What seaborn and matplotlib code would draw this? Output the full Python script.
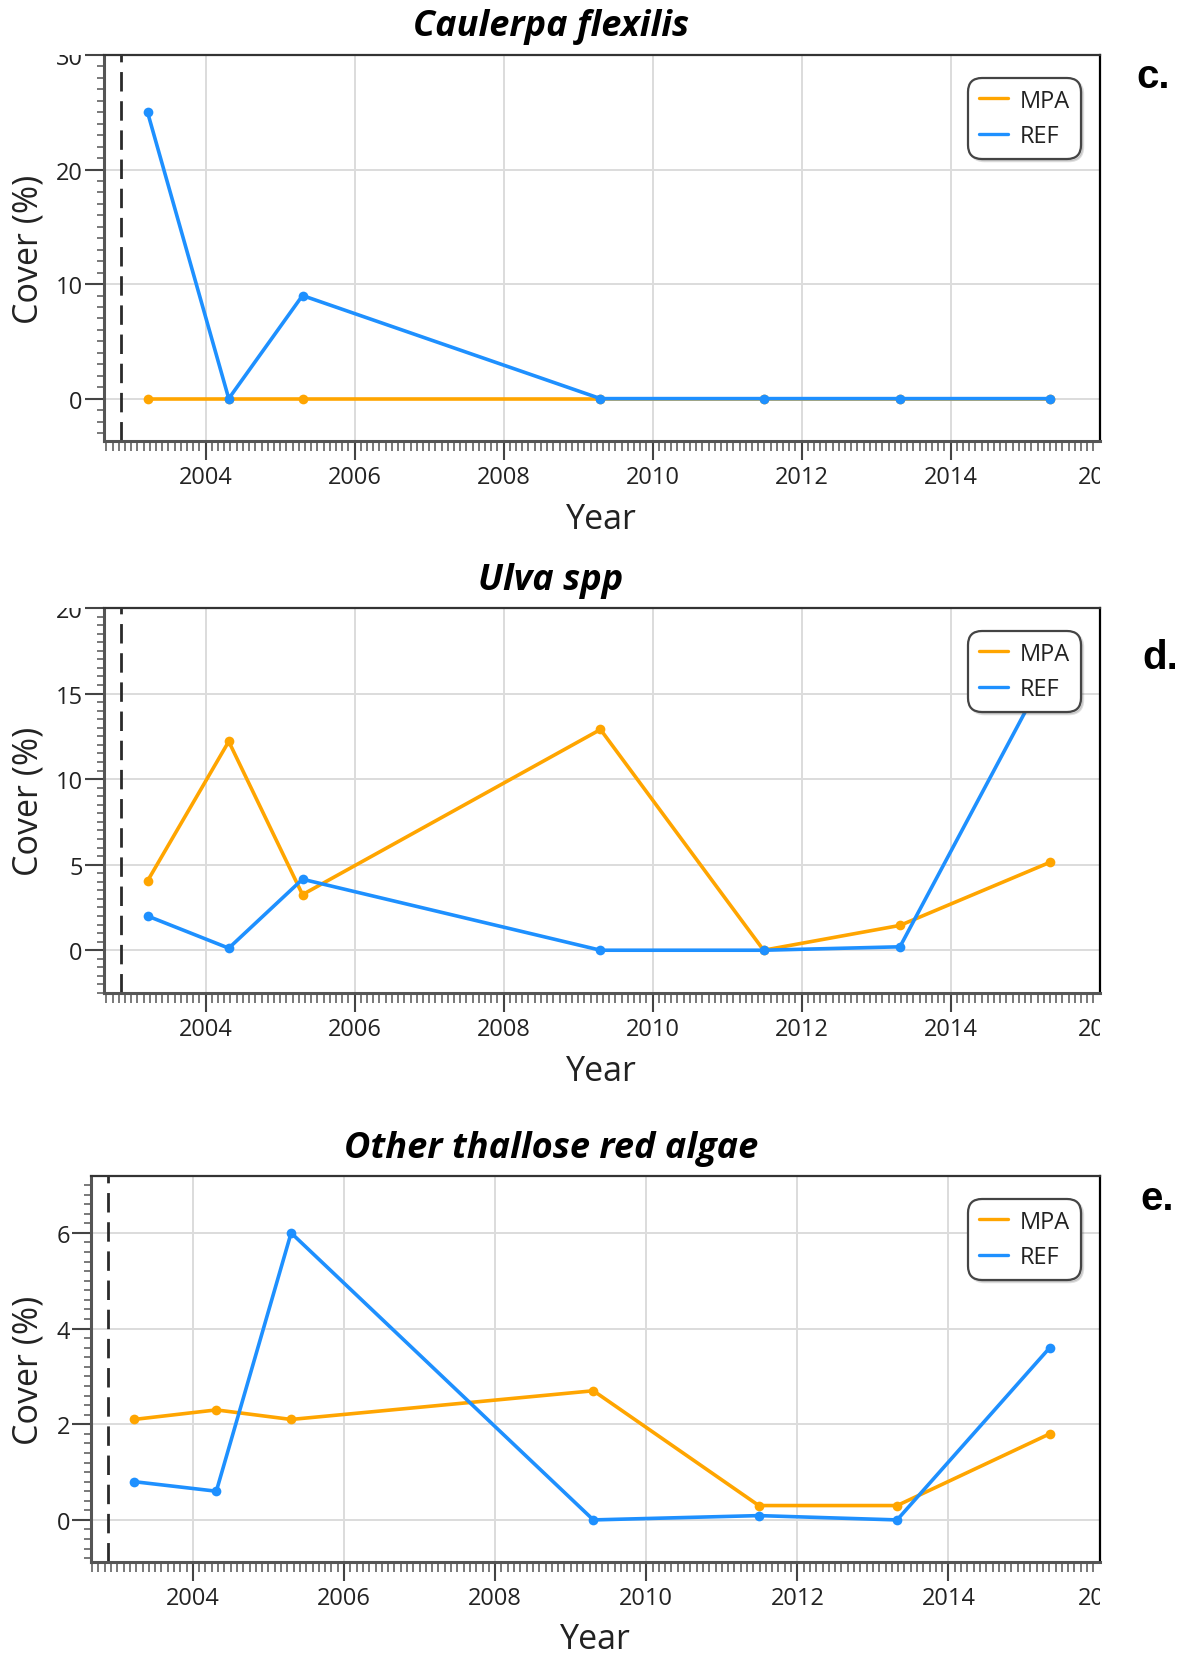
import numpy as np
import pandas as pd
import matplotlib
matplotlib.use("Agg")
import matplotlib.pyplot as plt
import seaborn as sns
from matplotlib.ticker import MultipleLocator, FixedLocator
from matplotlib.lines import Line2D
from matplotlib.transforms import Bbox, TransformedBbox, ScaledTranslation

# ---------------- data ----------------
years = [2003.22, 2004.31, 2005.30, 2009.30, 2011.49, 2013.32, 2015.34]
sites = ["MPA", "REF"]

caulerpa_mpa = [0, 0, 0, 0, 0, 0, 0]
caulerpa_ref = [25.0, 0, 9.0, 0, 0, 0, 0]

ulva_mpa = [4.05, 12.2, 3.25, 12.9, 0.0, 1.45, 5.15]
ulva_ref = [2.0, 0.12, 4.15, 0.0, 0.0, 0.2, 16.7]

red_mpa = [2.1, 2.3, 2.1, 2.7, 0.3, 0.3, 1.8]
red_ref = [0.8, 0.6, 6.0, 0.0, 0.09, 0.0, 3.6]

titles = ["Caulerpa flexilis", "Ulva spp", "Other thallose red algae"]
panel_labels = ["c.", "d.", "e."]
x_ticks = [2004, 2006, 2008, 2010, 2012, 2014, 2016]
y_ticks = [[0, 10, 20, 30], [0, 5, 10, 15, 20], [0, 2, 4, 6]]
mpa_start = 2002.87

panels = [(caulerpa_mpa, caulerpa_ref), (ulva_mpa, ulva_ref), (red_mpa, red_ref)]

# ---------------- style ----------------
sns.set_style("white")
plt.rcParams["font.family"] = ["Open Sans", "DejaVu Sans"]
palette = {"MPA": "#FFA500", "REF": "#1E90FF"}

W, H = 1180, 1658
fig = plt.figure(figsize=(W / 100, H / 100), dpi=100)

# axes boxes in pixels: left, right, top, bottom
boxes = [(103.6, 1099.6, 56, 442), (103.6, 1099.6, 609, 994), (90.9, 1099.6, 1177, 1563)]
ylims = [(-3.7, 30.0), (-2.5, 20.0), (-0.88, 7.19)]
xlims = [(2002.63, 2016.0), (2002.63, 2016.0), (2002.65, 2016.0)]
yminor = [1, 0.5, 0.2]
title_y = [27, 581, 1149]
label_pos = [(1136, 88), (1142, 669), (1140, 1210)]
xlabel_y = [-0.202, -0.203, -0.1995]

axes = []
for i, (mpa, ref) in enumerate(panels):
    l, r, t, b = boxes[i]
    ax = fig.add_axes([l / W, 1 - b / H, (r - l) / W, (b - t) / H])
    axes.append(ax)
    df = pd.DataFrame({
        "Year": years * 2,
        "Cover": list(mpa) + list(ref),
        "Site": ["MPA"] * len(years) + ["REF"] * len(years),
    })
    ax.grid(True, color="#dcdcdc", linewidth=1.4, zorder=0)
    ax.set_axisbelow(True)
    ax.axvline(mpa_start, color="#2a2a2a", linewidth=2.0, dashes=(7, 3.5), zorder=1)
    sns.lineplot(data=df, x="Year", y="Cover", hue="Site", palette=palette,
                 hue_order=sites, marker="o", markersize=7, markeredgewidth=0,
                 linewidth=2.6, errorbar=None, ax=ax, legend=False, zorder=3)
    ax.set_xlim(*xlims[i])
    ax.set_ylim(*ylims[i])
    ax.xaxis.set_major_locator(FixedLocator(x_ticks))
    ax.xaxis.set_minor_locator(MultipleLocator(1 / 12))
    ax.yaxis.set_major_locator(FixedLocator(y_ticks[i]))
    ax.yaxis.set_minor_locator(MultipleLocator(yminor[i]))
    ax.tick_params(axis="x", which="major", direction="out", length=14, width=1.5,
                   color="#444444", labelsize=17, labelcolor="#222222", pad=3,
                   bottom=True, top=False)
    ax.tick_params(axis="x", which="minor", direction="out", length=7, width=1.1,
                   color="#555555", bottom=True, top=False)
    ax.tick_params(axis="y", which="major", direction="out", length=14, width=1.5,
                   color="#444444", labelsize=17, labelcolor="#222222", pad=1,
                   left=True, right=False)
    ax.tick_params(axis="y", which="minor", direction="out", length=5, width=1.1,
                   color="#555555", left=True, right=False)
    for side in ["left", "bottom"]:
        ax.spines[side].set_color("#555555")
        ax.spines[side].set_linewidth(2.2)
    ax.spines["top"].set_color("#333333")
    ax.spines["top"].set_linewidth(1.6)
    ax.spines["right"].set_color("#000000")
    ax.spines["right"].set_linewidth(1.6)

    ax.set_xlabel("Year", fontsize=24.5, color="#222222")
    ax.xaxis.label.set_va("center")
    ax.xaxis.set_label_coords(0.5, xlabel_y[i])
    ax.set_ylabel("Cover (%)", fontsize=24.5, color="#222222")
    ax.yaxis.label.set_va("center")
    ylab_x = (28.5 - l) / (r - l)
    ax.yaxis.set_label_coords(ylab_x, 0.5)

    handles = [Line2D([], [], color=palette[s], linewidth=2.4) for s in sites]
    leg = ax.legend(handles, sites, loc="upper right",
                    bbox_to_anchor=(1 - (r - 1081) / (r - l), 1 - 23 / (b - t)),
                    borderaxespad=0, fontsize=17, frameon=True, fancybox=True,
                    framealpha=1, edgecolor="#444444", handlelength=1.25,
                    handletextpad=0.5, borderpad=0.45, labelspacing=0.5,
                    shadow={"ox": 1.5, "oy": -1.5, "alpha": 0.18})
    leg.get_frame().set_linewidth(1.6)
    leg.get_frame().set_boxstyle("round,pad=0,rounding_size=0.6")
    for txt in leg.get_texts():
        txt.set_color("#222222")

    fig.text(551 / W, 1 - title_y[i] / H, titles[i], ha="center", va="center",
             fontsize=26, fontweight="bold", fontstyle="italic",
             family=["Open Sans", "DejaVu Sans"], color="#000000")
    lx, ly = label_pos[i]
    fig.text(lx / W, 1 - ly / H, panel_labels[i], ha="left", va="baseline",
             fontsize=29, fontweight="bold", family=["Liberation Sans", "DejaVu Sans"],
             color="#000000")

fig.canvas.draw()
for ax in axes:
    pos = ax.get_position()
    clip = TransformedBbox(Bbox.from_extents(0, 0, pos.x1, pos.y1), fig.transFigure)
    for tk in ax.xaxis.get_major_ticks() + ax.yaxis.get_major_ticks():
        tk.label1.set_clip_on(True)
        tk.label1.set_clip_box(clip)
    last = ax.xaxis.get_major_ticks()[-1]
    last.tick1line.set_visible(False)
    last.gridline.set_visible(False)
    last.label1.set_transform(last.label1.get_transform()
                              + ScaledTranslation(5 / 100, 0, fig.dpi_scale_trans))

fig.savefig("out.png", dpi=100)
